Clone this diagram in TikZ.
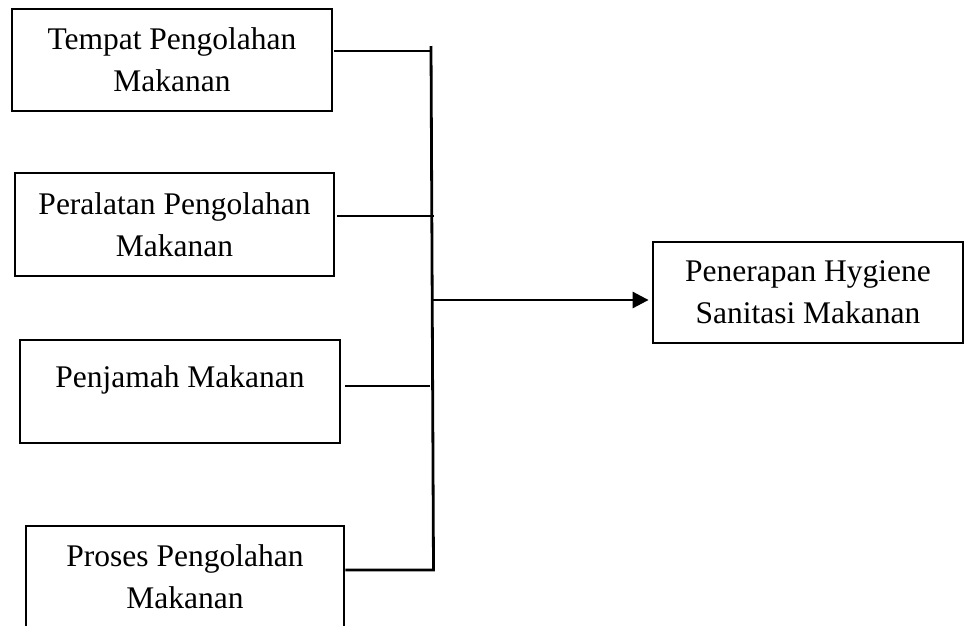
\documentclass[tikz,border=0pt]{standalone}
\usepackage{fontspec}
\setmainfont{Liberation Serif}
\usetikzlibrary{arrows.meta}
\tikzset{
  box/.style={draw=black, line width=2.8pt, rectangle, inner sep=0pt, align=center,
    font=\fontsize{31.5}{42}\selectfont},
  lbl/.style={inner sep=0pt, font=\fontsize{31.5}{42}\selectfont},
  conn/.style={draw=black, line width=2.8pt},
  arr/.style={conn, -{Triangle[length=16pt,width=16pt]}}
}
\begin{document}
\begin{tikzpicture}[x=1pt,y=-1pt]
\useasboundingbox (0,0) rectangle (965,625);
\fill[white] (0,0) rectangle (965,625);
\clip (0,0) rectangle (965,625);

\node[box, minimum width=320pt, minimum height=102pt] (b1) at (172,60) {Tempat Pengolahan\\Makanan};
\node[box, minimum width=319pt, minimum height=103pt] (b2) at (174.5,224.5) {Peralatan Pengolahan\\Makanan};
\node[box, minimum width=320pt, minimum height=103pt] (b3) at (180,391.5) {};
\node[lbl, anchor=base] (t3) at (180,387) {Penjamah Makanan};
\node[box, minimum width=318pt, minimum height=102pt] (b4) at (185,577) {Proses Pengolahan\\Makanan};
\node[box, minimum width=310pt, minimum height=101pt] (b5) at (808,292.5) {Penerapan Hygiene\\Sanitasi Makanan};

\coordinate (top) at (431,46);
\coordinate (j1) at (431,51);
\coordinate (j2) at (434,216);
\coordinate (j3) at (430,386);
\coordinate (j4) at (433.5,570);
\coordinate (ja) at (433,300);

\draw[conn] ([xshift=1pt]b1.east |- j1) -- (j1);
\draw[conn] ([xshift=2pt]b2.east |- j2) -- (j2);
\draw[conn] ([xshift=4pt]b3.east |- j3) -- (j3);
\draw[conn, line join=miter] (b4.east |- j4) -- (j4) -- (top);
\draw[arr, shorten >=3pt] (ja) -- (b5.west |- ja);
\end{tikzpicture}
\end{document}
